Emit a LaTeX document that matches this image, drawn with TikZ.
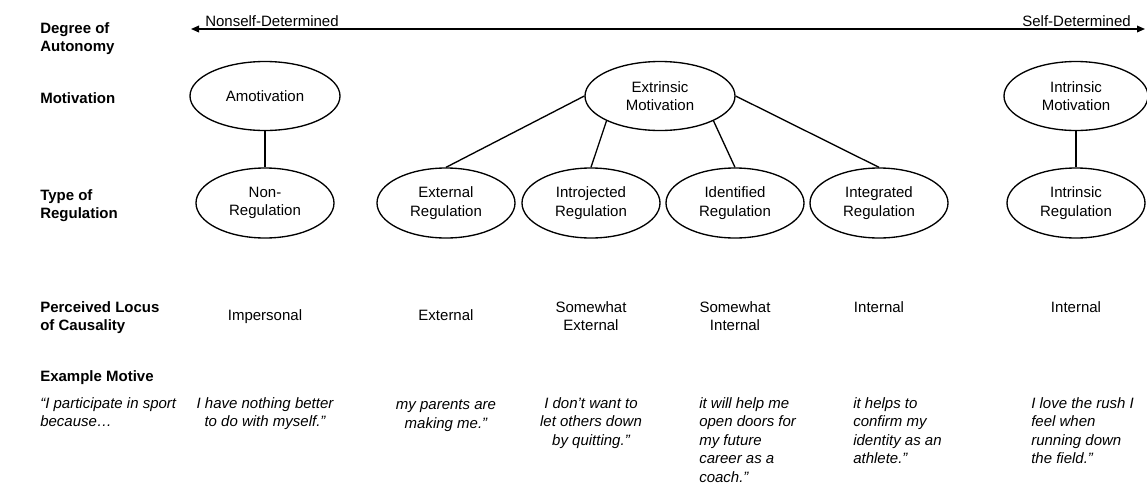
\documentclass[tikz,border=0pt]{standalone}
\usepackage{fontspec}
\setmainfont{Liberation Sans}
\usetikzlibrary{arrows.meta}
\usetikzlibrary{shapes.geometric}
\begin{document}
\begin{tikzpicture}[x=0.75pt, y=-0.75pt,
                    every node/.style={inner sep=0pt},
                    oval/.style={ellipse, draw, line width=1pt, align=center,
                                 minimum width=103.5pt, minimum height=52.5pt},
                    topoval/.style={oval, minimum width=112.5pt, minimum height=51.75pt},
                    rowlabel/.style={anchor=north west, align=left, font=\bfseries},
                    locustext/.style={anchor=north, align=center},
                    motivetext/.style={anchor=north, align=center, font=\itshape},
                    motivetextleft/.style={anchor=north west, align=left, font=\itshape},
                    link/.style={line width=1pt},
                    autonomy/.style={line width=1pt,
                        {Triangle[length=6pt,width=5pt]}-{Triangle[length=6pt,width=5pt]}}]
    \fontsize{11.25pt}{13.9pt}\selectfont
    \useasboundingbox (0,0) rectangle (1147,483);

    % row labels
    \node[rowlabel] (lbl-auto)  at (40,22)  {Degree of\\Autonomy};
    \node[rowlabel] (lbl-mot)   at (40,92)  {Motivation};
    \node[rowlabel] (lbl-reg)   at (40,189) {Type of\\Regulation};
    \node[rowlabel] (lbl-locus) at (40,301) {Perceived Locus\\of Causality};
    \node[rowlabel] (lbl-ex)    at (40,370) {Example Motive};
    \node[motivetextleft] (lbl-part) at (40,397) {“I participate in sport\\because…};

    % degree of autonomy
    \coordinate (left-end)  at (191,29);
    \coordinate (right-end) at (1145,29);
    \draw[autonomy] (left-end) -- (right-end);
    \node[anchor=base west] (nsd) at (205,26)  {Nonself-Determined};
    \node[anchor=base east] (sd)  at (1131,26) {Self-Determined};

    % motivation
    \node[topoval] (amot)  at (265,96)  {Amotivation};
    \node[topoval] (extr)  at (660,96)  {Extrinsic\\Motivation};
    \node[topoval, minimum width=108pt] (intrm) at (1076,96) {Intrinsic\\Motivation};

    % type of regulation
    \node[oval] (nonreg)    at (265,203)  {Non-\\Regulation};
    \node[oval] (extreg)    at (446,203)  {External\\Regulation};
    \node[oval] (introreg)  at (591,203)  {Introjected\\Regulation};
    \node[oval] (identreg)  at (735,203)  {Identified\\Regulation};
    \node[oval] (integreg)  at (879,203)  {Integrated\\Regulation};
    \node[oval] (intrreg)   at (1076,203) {Intrinsic\\Regulation};

    \draw[link] (amot) -- (nonreg);
    \draw[link] (extr.west) -- (extreg.north);
    \draw[link] (extr.south west) -- (introreg.north);
    \draw[link] (extr.south east) -- (identreg.north);
    \draw[link] (extr.east) -- (integreg.north);
    \draw[link] (intrm) -- (intrreg);

    % perceived locus of causality
    \node[locustext] (loc-imp)  at (265,309)  {Impersonal};
    \node[locustext] (loc-ext)  at (446,309)  {External};
    \node[locustext] (loc-swe)  at (591,301)  {Somewhat\\External};
    \node[locustext] (loc-swi)  at (735,301)  {Somewhat\\Internal};
    \node[locustext] (loc-int)  at (879,301)  {Internal};
    \node[locustext] (loc-intr) at (1076,301) {Internal};

    % example motive
    \node[motivetext] (ex-amot)  at (265,397) {I have nothing better\\to do with myself.”};
    \node[motivetext] (ex-ext)   at (446,400) {my parents are\\making me.”};
    \node[motivetext] (ex-intro) at (591,397) {I don’t want to\\let others down\\by quitting.”};
    \node[motivetextleft] (ex-ident) at (699,397) {it will help me\\open doors for\\my future\\career as a\\coach.”};
    \node[motivetextleft] (ex-integ) at (853,397) {it helps to\\confirm my\\identity as an\\athlete.”};
    \node[motivetextleft] (ex-intr)  at (1031,397) {I love the rush I\\feel when\\running down\\the field.”};
\end{tikzpicture}
\end{document}
